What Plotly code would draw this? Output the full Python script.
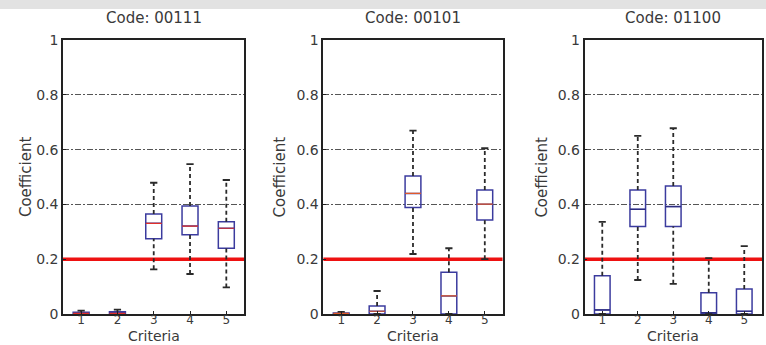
import plotly.graph_objects as go

# ---------------- data ----------------
criteria = [1, 2, 3, 4, 5]
titles = ["Code: 00111", "Code: 00101", "Code: 01100"]
threshold = 0.2
y_ticks = [0, 0.2, 0.4, 0.6, 0.8, 1]
y_tick_text = ["0", "0.2", "0.4", "0.6", "0.8", "1"]

p1_lower = [0.0, 0.0, 0.163, 0.146, 0.097]
p1_q1 = [0.0, 0.0, 0.275, 0.289, 0.240]
p1_med = [0.002, 0.002, 0.331, 0.321, 0.313]
p1_q3 = [0.006, 0.008, 0.365, 0.394, 0.337]
p1_upper = [0.012, 0.016, 0.479, 0.547, 0.489]

p2_lower = [0.0, 0.0, 0.219, 0.0, 0.200]
p2_q1 = [0.0, 0.0, 0.389, 0.0, 0.343]
p2_med = [0.002, 0.010, 0.440, 0.066, 0.401]
p2_q3 = [0.004, 0.029, 0.504, 0.152, 0.453]
p2_upper = [0.008, 0.084, 0.669, 0.240, 0.605]

p3_lower = [0.0, 0.124, 0.110, 0.0, 0.0]
p3_q1 = [0.0, 0.319, 0.319, 0.0, 0.0]
p3_med = [0.015, 0.382, 0.392, 0.005, 0.010]
p3_q3 = [0.140, 0.453, 0.467, 0.078, 0.091]
p3_upper = [0.336, 0.650, 0.678, 0.204, 0.248]

panels = [
    (p1_lower, p1_q1, p1_med, p1_q3, p1_upper),
    (p2_lower, p2_q1, p2_med, p2_q3, p2_upper),
    (p3_lower, p3_q1, p3_med, p3_q3, p3_upper),
]

# ---------------- style ----------------
FONT = "DejaVu Sans"
TXT = "#3a3a3a"
BOX_COLOR = "#3b3b9e"
MED_COLORS = ["#e0302a", "#e05a2a", "#2d2d80"]
WHISK = "#2a2a2a"
BOX_W = 0.44
CAP_HALF = 0.1
X_RANGE = [criteria[0] - 0.5, criteria[-1] + 0.5]
domains = [[0.0, 0.2596], [0.3723, 0.6291], [0.7461, 1.0]]
ytitle_x = [-0.0528, 0.311, 0.6847]

fig = go.Figure()

for i, (lo, q1, med, q3, up) in enumerate(panels):
    xa = "x" if i == 0 else f"x{i+1}"
    ya = "y" if i == 0 else f"y{i+1}"

    # threshold line (drawn first so the whiskers sit on top)
    fig.add_trace(go.Scatter(
        x=X_RANGE, y=[threshold, threshold], mode="lines",
        xaxis=xa, yaxis=ya, showlegend=False, hoverinfo="skip",
        line=dict(color="#ee1111", width=3.5),
    ))

    # box bodies
    fig.add_trace(go.Box(
        x=criteria, q1=q1, median=med, q3=q3, lowerfence=q1, upperfence=q3,
        width=BOX_W, boxpoints=False, fillcolor="rgba(0,0,0,0)",
        line=dict(color=BOX_COLOR, width=1.5), whiskerwidth=0,
        xaxis=xa, yaxis=ya, showlegend=False, hoverinfo="skip",
    ))

    # whiskers (dashed)
    wx, wy = [], []
    for c, l, a, b, u in zip(criteria, lo, q1, q3, up):
        wx += [c, c, None, c, c, None]
        wy += [b, u, None, l, a, None]
    fig.add_trace(go.Scatter(
        x=wx, y=wy, mode="lines", xaxis=xa, yaxis=ya, showlegend=False,
        line=dict(color=WHISK, width=1.8, dash="4px,3px"), hoverinfo="skip",
    ))

    # caps
    cx, cy = [], []
    for c, l, u in zip(criteria, lo, up):
        cx += [c - CAP_HALF, c + CAP_HALF, None, c - CAP_HALF, c + CAP_HALF, None]
        cy += [u, u, None, l, l, None]
    fig.add_trace(go.Scatter(
        x=cx, y=cy, mode="lines", xaxis=xa, yaxis=ya, showlegend=False,
        line=dict(color=WHISK, width=1.8), hoverinfo="skip",
    ))

    # medians
    mx, my = [], []
    for c, m in zip(criteria, med):
        mx += [c - BOX_W / 2, c + BOX_W / 2, None]
        my += [m, m, None]
    fig.add_trace(go.Scatter(
        x=mx, y=my, mode="lines", xaxis=xa, yaxis=ya, showlegend=False,
        line=dict(color=MED_COLORS[i], width=1.2), hoverinfo="skip",
    ))

    axis_common = dict(showline=True, mirror=True, linecolor="#222222",
                       linewidth=1.5, zeroline=False, ticks="inside",
                       ticklen=3, tickcolor="#222222", fixedrange=True)
    fig.update_layout(**{
        ("xaxis" if i == 0 else f"xaxis{i+1}"): dict(
            domain=domains[i], anchor=ya, range=X_RANGE,
            tickvals=criteria, ticktext=[str(c) for c in criteria],
            showgrid=False, ticklabelstandoff=-6,
            tickfont=dict(family=FONT, size=12, color=TXT), **axis_common),
        ("yaxis" if i == 0 else f"yaxis{i+1}"): dict(
            domain=[0, 1], anchor=xa, range=[0, 1],
            tickvals=y_ticks, ticktext=y_tick_text,
            showgrid=True, gridcolor="#555555", gridwidth=1,
            griddash="6px,2px,2px,2px",
            tickfont=dict(family=FONT, size=14, color=TXT), **axis_common),
    })

    cx_mid = (domains[i][0] + domains[i][1]) / 2
    fig.add_annotation(text=titles[i], x=cx_mid, y=1.08, xref="paper", yref="paper",
                       showarrow=False, xanchor="center", yanchor="middle",
                       font=dict(family=FONT, size=15, color=TXT))
    fig.add_annotation(text="Criteria", x=cx_mid, y=-0.079, xref="paper", yref="paper",
                       showarrow=False, xanchor="center", yanchor="middle",
                       font=dict(family=FONT, size=14, color=TXT))
    fig.add_annotation(text="Coefficient", x=ytitle_x[i], y=0.5, xref="paper", yref="paper",
                       showarrow=False, xanchor="center", yanchor="middle", textangle=-90,
                       font=dict(family=FONT, size=15, color=TXT))

# light grey strip at the very top of the image
fig.add_shape(type="rect", xref="paper", yref="paper", x0=-0.1, x1=1.01,
              y0=1.113, y1=1.2, fillcolor="#e2e2e2", line=dict(width=0), layer="below")

fig.update_layout(
    width=766, height=345,
    margin=dict(l=63, r=2, t=40, b=31),
    paper_bgcolor="white", plot_bgcolor="white",
    showlegend=False,
)

fig.write_html("out.html")
